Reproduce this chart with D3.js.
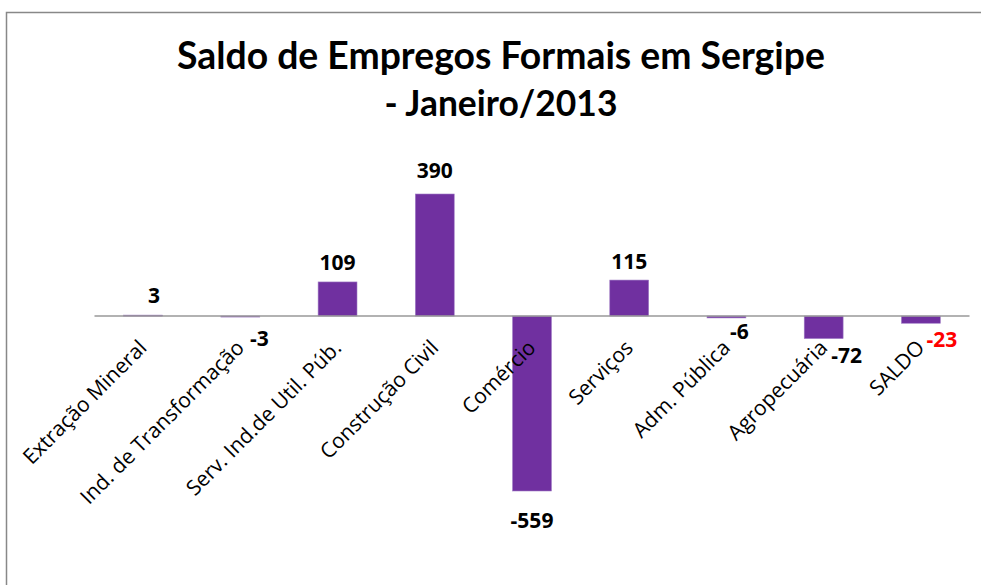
<!DOCTYPE html>
<html lang="pt">
<head>
    <meta charset="UTF-8">
    <title>Saldo de Empregos Formais em Sergipe</title>
    <script src="https://d3js.org/d3.v7.min.js"></script>
    <style>
        body { margin: 0; background: #fff; font-family: "Open Sans", sans-serif; }
        svg { display: block; }
    </style>
</head>
<body>
    <div id="chart"></div>
    <script>
        const categories = ["Extração Mineral", "Ind. de Transformação", "Serv. Ind.de Util. Púb.",
            "Construção Civil", "Comércio", "Serviços", "Adm. Pública", "Agropecuária", "SALDO"];
        const values = [3, -3, 109, 390, -559, 115, -6, -72, -23];
        const titleLines = ["Saldo de Empregos Formais em Sergipe", "- Janeiro/2013"];

        const width = 981, height = 585;
        const svg = d3.select("#chart").append("svg")
            .attr("width", width)
            .attr("height", height);

        // outer frame (only top and left are visible in the original)
        svg.append("path")
            .attr("d", "M6.5,585 V12.5 H981")
            .attr("fill", "none")
            .attr("stroke", "#888")
            .attr("stroke-width", 1.5);

        // title, sized to the width it has in the original
        const titleWidths = [648, 233];
        const titleY = [69, 116];
        titleLines.forEach((t, i) => {
            const txt = svg.append("text")
                .attr("x", 501)
                .attr("y", titleY[i])
                .attr("text-anchor", "middle")
                .attr("font-family", "Lato, 'Open Sans', sans-serif")
                .attr("font-weight", "bold")
                .attr("font-size", 32)
                .attr("fill", "#000")
                .text(t);
            const w = txt.node().getComputedTextLength();
            txt.attr("font-size", 32 * titleWidths[i] / w);
        });

        const x = d3.scaleBand()
            .domain(categories)
            .range([94.5, 969.5])
            .paddingInner(0.6)
            .paddingOuter(0.3);

        const y = d3.scaleLinear()
            .domain([-559, 390])
            .range([491, 194]);

        svg.append("g")
            .selectAll("rect")
            .data(values)
            .join("rect")
            .attr("x", (d, i) => x(categories[i]))
            .attr("width", x.bandwidth())
            .attr("y", d => y(Math.max(0, d)))
            .attr("height", d => Math.max(1, Math.abs(y(d) - y(0))))
            .attr("fill", "#7030A0")
            .attr("stroke", "#a07cc5")
            .attr("stroke-width", 0.6);

        // zero line
        svg.append("line")
            .attr("x1", 94.5).attr("x2", 969.5)
            .attr("y1", y(0)).attr("y2", y(0))
            .attr("stroke", "#999")
            .attr("stroke-width", 1.5);

        // category labels
        svg.append("g")
            .selectAll("text")
            .data(categories)
            .join("text")
            .attr("transform", d => `translate(${x(d) + x.bandwidth() / 2 + 5},${y(0) + 33}) rotate(-45)`)
            .attr("text-anchor", "end")
            .attr("font-family", "'Open Sans', sans-serif")
            .attr("font-size", 21)
            .attr("fill", "#000")
            .text(d => d);

        // data labels, with the nudges the original had
        const nudge = {
            0: [11, 0], 1: [19, 8], 3: [0, -4], 4: [0, 16], 5: [0, 1],
            6: [13, 0], 7: [23, 3], 8: [21, 3]
        };
        svg.append("g")
            .selectAll("text")
            .data(values)
            .join("text")
            .attr("x", (d, i) => x(categories[i]) + x.bandwidth() / 2 + (nudge[i] ? nudge[i][0] : 0))
            .attr("y", (d, i) => (d >= 0 ? y(d) - 12 : y(d) + 21) + (nudge[i] ? nudge[i][1] : 0))
            .attr("text-anchor", "middle")
            .attr("font-family", "'Open Sans', sans-serif")
            .attr("font-weight", "bold")
            .attr("font-size", 21)
            .attr("fill", (d, i) => categories[i] === "SALDO" ? "#ff0000" : "#000")
            .text(d => d);
    </script>
</body>
</html>
